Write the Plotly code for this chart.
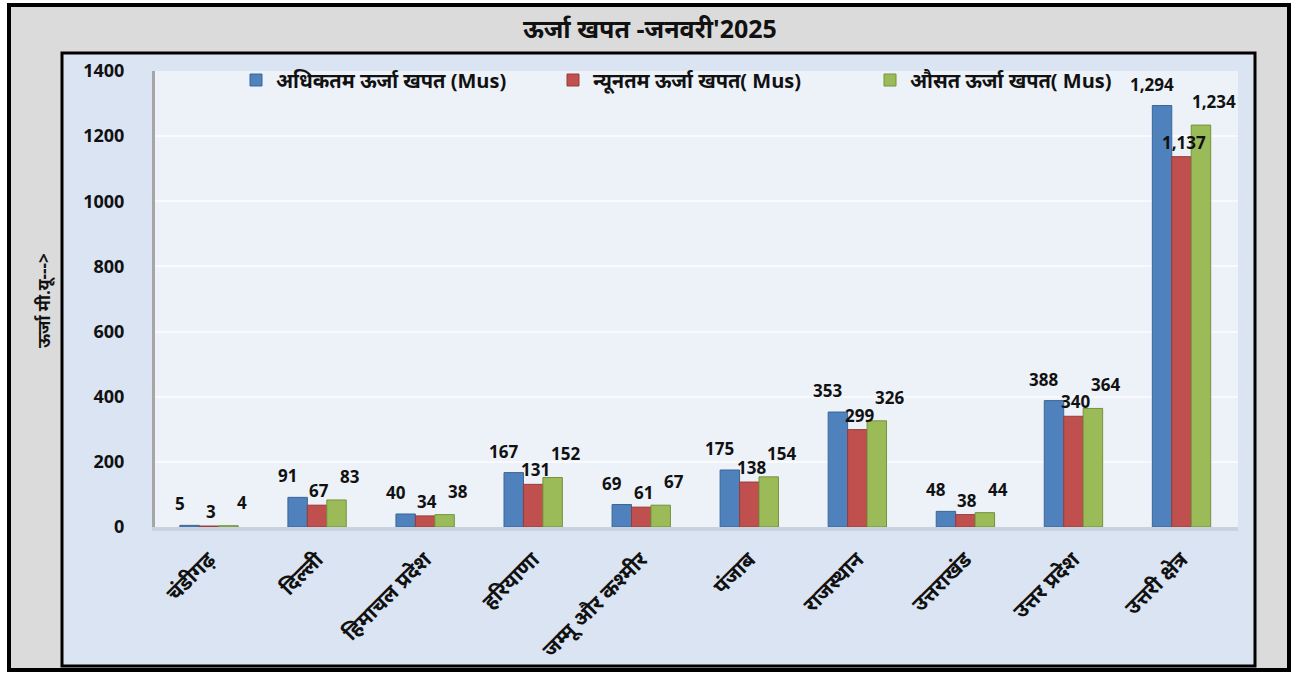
import plotly.graph_objects as go

# Monthly energy consumption by state, January 2025 (MUs)
states = ["चंडीगढ़", "दिल्ली", "हिमाचल प्रदेश", "हरियाणा", "जम्मू और कश्मीर",
          "पंजाब", "राजस्थान", "उत्तराखंड", "उत्तर प्रदेश", "उत्तरी क्षेत्र"]
max_energy = [5, 91, 40, 167, 69, 175, 353, 48, 388, 1294]
min_energy = [3, 67, 34, 131, 61, 138, 299, 38, 340, 1137]
avg_energy = [4, 83, 38, 152, 67, 154, 326, 44, 364, 1234]

series_names = ["अधिकतम ऊर्जा खपत (Mus)", "न्यूनतम ऊर्जा खपत( Mus)", "औसत ऊर्जा खपत( Mus)"]
series_colors = ["#4f81bd", "#c0504d", "#9bbb59"]
edge_colors = ["#3a6696", "#963c3a", "#76923c"]

# value-label placement per series: (x shift px, y shift px above bar top)
label_shift = [(-10, 8), (2, 1), (13, 10)]

W, H = 1293, 675
L, R, T, B = 155, 1238, 71, 527   # plot-area pixel bounds
GAP = 0.46
BAR_PX = (R - L) / len(states) * (1 - GAP) / 3


def px_x(p):
    return (p - L) / (R - L)


def px_y(p):
    return (B - p) / (B - T)


font_main = "Open Sans, Noto Sans, DejaVu Sans, sans-serif"

fig = go.Figure()
annotations = []
for k, (name, vals, col, edge) in enumerate(zip(series_names,
                                                [max_energy, min_energy, avg_energy],
                                                series_colors, edge_colors)):
    fig.add_trace(go.Bar(
        x=states, y=vals, name=name,
        marker=dict(color=col, line=dict(color=edge, width=1)),
    ))
    dx, dy = label_shift[k]
    for s, v in zip(states, vals):
        annotations.append(dict(
            x=s, y=v, xref="x", yref="y", text=f"{v:,}", showarrow=False,
            xanchor="center", yanchor="bottom",
            xshift=(k - 1) * BAR_PX + dx, yshift=dy,
            font=dict(family=font_main, size=17, color="#111111", weight="bold"),
        ))

shapes = [
    # outer frame
    dict(type="rect", xref="paper", yref="paper", layer="below",
         x0=px_x(9), x1=px_x(1289), y0=px_y(670), y1=px_y(5),
         fillcolor="#dcdbdb", line=dict(color="#000000", width=4)),
    # inner chart frame
    dict(type="rect", xref="paper", yref="paper", layer="below",
         x0=px_x(62), x1=px_x(1255), y0=px_y(666), y1=px_y(53),
         fillcolor="#dbe4f2", line=dict(color="#000000", width=3)),
    # plot area background
    dict(type="rect", xref="paper", yref="paper", layer="below",
         x0=0, x1=1, y0=0, y1=1,
         fillcolor="#edf2f9", line=dict(width=0)),
]

annotations += [
    dict(text="ऊर्जा खपत -जनवरी'2025", xref="paper", yref="paper",
         x=px_x(650), y=px_y(28), showarrow=False, xanchor="center", yanchor="middle",
         font=dict(family=font_main, size=25, color="#111111", weight="bold")),
    dict(text="ऊर्जा मी.यू--->", xref="paper", yref="paper",
         x=px_x(44), y=px_y(300), showarrow=False, textangle=-90,
         xanchor="center", yanchor="middle",
         font=dict(family=font_main, size=17, color="#111111", weight="bold")),
]

fig.update_layout(
    width=W, height=H,
    margin=dict(l=L, r=W - R, t=T, b=H - B, pad=0),
    paper_bgcolor="#ffffff",
    plot_bgcolor="rgba(0,0,0,0)",
    barmode="group", bargap=GAP, bargroupgap=0.0,
    shapes=shapes, annotations=annotations,
    showlegend=True,
    legend=dict(orientation="h", x=px_x(236), y=px_y(80), xanchor="left", yanchor="middle",
                bgcolor="rgba(0,0,0,0)",
                font=dict(family=font_main, size=20, color="#111111", weight="bold"),
                itemwidth=30, traceorder="normal",
                entrywidth=272, entrywidthmode="pixels"),
    font=dict(family=font_main),
)

fig.update_yaxes(range=[0, 1400], dtick=200, tickformat="d",
                 tickfont=dict(family=font_main, size=18, color="#111111", weight="bold"),
                 showgrid=True, gridcolor="#f8fafd", gridwidth=1.5,
                 showline=True, linecolor="#a6a6a6", linewidth=3,
                 ticks="", ticklabelstandoff=24, zeroline=False)
fig.update_xaxes(tickangle=-45,
                 tickfont=dict(family=font_main, size=21, color="#111111", weight="bold"),
                 showline=True, linecolor="#c9d2df", linewidth=4,
                 ticks="", showgrid=False, ticklabelstandoff=8)

fig.write_html("out.html")
